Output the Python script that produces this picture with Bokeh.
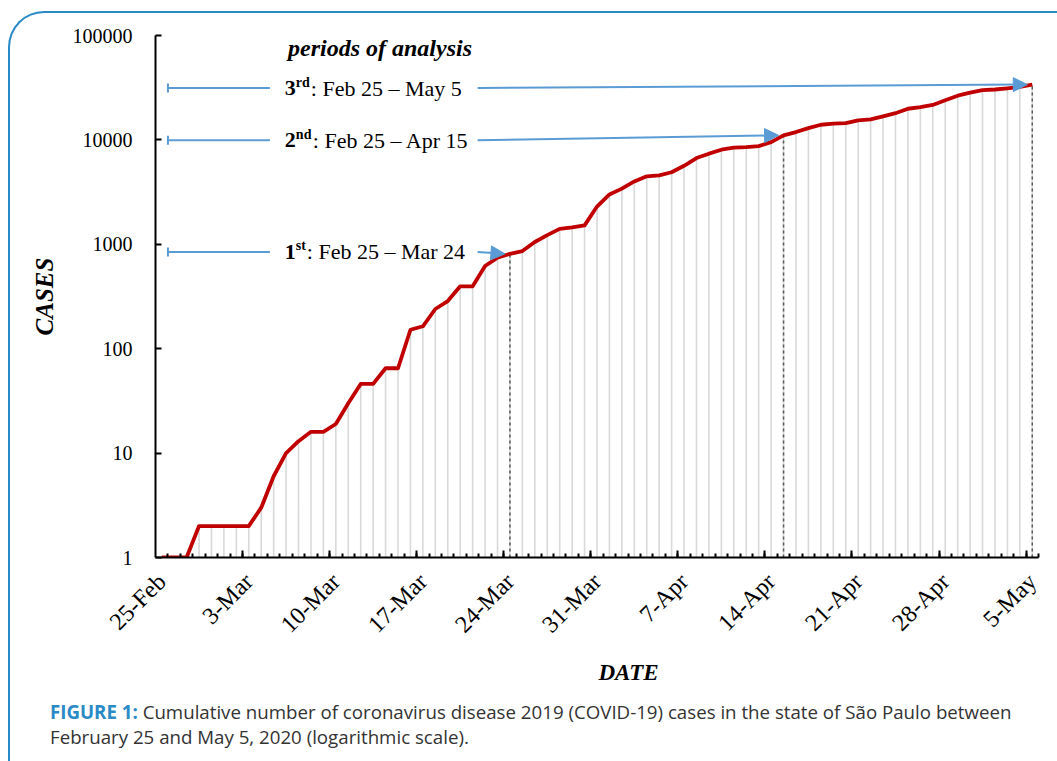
import math
from bokeh.plotting import figure
from bokeh.layouts import column
from bokeh.models import (Range1d, LinearAxis, FixedTicker, NumeralTickFormatter,
                          Label, Arrow, NormalHead, TeeHead, Title, Div)
from bokeh.embed import file_html
from bokeh.resources import INLINE

# ---------------- data ----------------
date_labels = ["25-Feb", "3-Mar", "10-Mar", "17-Mar", "24-Mar", "31-Mar",
               "7-Apr", "14-Apr", "21-Apr", "28-Apr", "5-May"]
label_days = [0, 7, 14, 21, 28, 35, 42, 49, 56, 63, 70]

cases = [1, 1, 1, 2, 2, 2, 2, 2, 3, 6,
         10, 13, 16, 16, 19, 30, 46, 46, 65, 65,
         152, 164, 240, 286, 396, 396, 620, 745, 810, 862,
         1052, 1223, 1406, 1451, 1517, 2300, 3000, 3414, 4000, 4477,
         4574, 4900, 5650, 6700, 7380, 8055, 8420, 8530, 8725, 9530,
         11050, 11890, 12980, 13970, 14290, 14490, 15370, 15710, 16780, 18030,
         19880, 20610, 21600, 24000, 26500, 28400, 30000, 30400, 31200, 32200,
         33900]
days = list(range(len(cases)))

period_num = ["1", "2", "3"]
period_sup = ["st", "nd", "rd"]
period_text = [": Feb 25 \u2013 Mar 24", ": Feb 25 \u2013 Apr 15", ": Feb 25 \u2013 May 5"]
period_end = [28, 50, 70]
period_row = [845, 9900, 31400]

y_ticks = [1, 10, 100, 1000, 10000, 100000]

caption_head = "FIGURE 1:"
caption_line1 = "Cumulative number of coronavirus disease 2019 (COVID-19) cases in the state of S\u00e3o Paulo between"
caption_line2 = "February 25 and May 5, 2020 (logarithmic scale)."

SERIF = "Liberation Serif"
BLUE = "#5b9bd5"
FRAME_BLUE = "#2a8ac6"

# ---------------- figure ----------------
p = figure(width=1045, height=680,
           x_range=Range1d(-0.5, 70.5), y_range=Range1d(1, 100000),
           y_axis_type="log", x_axis_location=None,
           output_backend="svg", toolbar_location=None,
           min_border_left=145, min_border_right=17,
           min_border_top=22, min_border_bottom=136)
p.grid.visible = False
p.outline_line_color = None
p.border_fill_color = None
p.background_fill_color = None

# y axis
ya = p.yaxis[0]
ya.ticker = FixedTicker(ticks=y_ticks, minor_ticks=[])
ya.formatter = NumeralTickFormatter(format="0")
ya.major_tick_in = 6
ya.major_tick_out = 0
ya.minor_tick_in = 0
ya.minor_tick_out = 0
ya.major_tick_line_width = 2
ya.axis_line_width = 2
ya.axis_line_color = "black"
ya.major_label_text_font = SERIF
ya.major_label_text_font_size = "20px"
ya.major_label_text_color = "black"
ya.major_label_standoff = 23
ya.axis_label = "CASES"
ya.axis_label_text_font = SERIF
ya.axis_label_text_font_style = "bold italic"
ya.axis_label_text_font_size = "25px"
ya.axis_label_text_color = "black"
ya.axis_label_standoff = 12

# x axis: tick axis (closest to frame)
tick_axis = LinearAxis(
    ticker=FixedTicker(ticks=[d - 0.5 for d in label_days[1:]],
                       minor_ticks=[d + 0.5 for d in days]),
    major_tick_in=7, major_tick_out=0, minor_tick_in=4, minor_tick_out=0,
    major_tick_line_width=2, minor_tick_line_width=2,
    axis_line_width=2, axis_line_color="black",
    major_label_text_font_size="0px", major_label_standoff=0,
    major_label_overrides={d - 0.5: "" for d in label_days[1:]})
p.add_layout(tick_axis, "below")

# x axis: date labels
label_axis = LinearAxis(
    ticker=FixedTicker(ticks=label_days, minor_ticks=[]),
    major_label_overrides={d: s for d, s in zip(label_days, date_labels)},
    major_label_orientation=math.pi / 4,
    major_tick_in=0, major_tick_out=0, major_tick_line_color=None,
    minor_tick_line_color=None, axis_line_color=None,
    major_label_text_font=SERIF, major_label_text_font_size="24px",
    major_label_text_color="black", major_label_standoff=20)
p.add_layout(label_axis, "below")

p.add_layout(Title(text="DATE", align="left", offset=443, standoff=16,
                   text_font=SERIF, text_font_style="bold italic",
                   text_font_size="23px", text_color="black"), "below")

# ---------------- glyphs ----------------
p.segment(x0=days, y0=[y_ticks[0]] * len(days), x1=days, y1=cases,
          line_color="#d9d9d9", line_width=1.6)
p.segment(x0=period_end, y0=[y_ticks[0]] * len(period_end), x1=period_end,
          y1=[cases[e] for e in period_end],
          line_color="#595959", line_width=1.5, line_dash="3 3")
p.line(days, cases, line_color="#c00000", line_width=3.8, line_join="round")

# ---------------- annotations ----------------
sup_w = {"st": 10, "nd": 16, "rd": 14}
text_x = 9.9
for num, sup, txt, end, row in zip(period_num, period_sup, period_text, period_end, period_row):
    p.add_layout(Arrow(start=TeeHead(size=9, line_color=BLUE, line_width=2), end=None,
                       x_start=0.5, y_start=row, x_end=8.7, y_end=row,
                       line_color=BLUE, line_width=2))
    p.add_layout(Arrow(end=NormalHead(size=14, fill_color=BLUE, line_color=BLUE),
                       x_start=25.4, y_start=row, x_end=end - 0.4, y_end=cases[end],
                       line_color=BLUE, line_width=2))
    p.add_layout(Label(x=text_x, y=row, text=num, text_font=SERIF, text_font_style="bold",
                       text_font_size="22px", text_baseline="middle", text_align="left",
                       text_color="black"))
    p.add_layout(Label(x=text_x, y=row, x_offset=11, y_offset=6, text=sup, text_font=SERIF,
                       text_font_style="bold", text_font_size="14px", text_baseline="middle",
                       text_align="left", text_color="black"))
    p.add_layout(Label(x=text_x, y=row, x_offset=12 + sup_w[sup], text=txt, text_font=SERIF,
                       text_font_size="22px", text_baseline="middle", text_align="left",
                       text_color="black"))

p.add_layout(Label(x=17.55, y=75100, text="periods of analysis", text_font=SERIF,
                   text_font_style="bold italic", text_font_size="24px",
                   text_baseline="middle", text_align="center", text_color="black"))

# ---------------- caption ----------------
caption = Div(
    text=(f"<div style=\"font-family:'Open Sans',sans-serif;font-size:18.7px;line-height:25px;"
          f"color:#333333;padding-left:35px;padding-top:1px;white-space:nowrap;\">"
          f"<span style='color:{FRAME_BLUE};font-weight:bold;'>{caption_head}</span> "
          f"{caption_line1}<br>{caption_line2}</div>"),
    width=1040, height=60)

layout = column(p, caption,
                styles={"margin-left": "8px", "margin-top": "11px",
                        "border-top": f"2px solid {FRAME_BLUE}",
                        "border-left": f"2px solid {FRAME_BLUE}",
                        "border-top-left-radius": "36px"})

open("out.html", "w").write(file_html(layout, INLINE))
